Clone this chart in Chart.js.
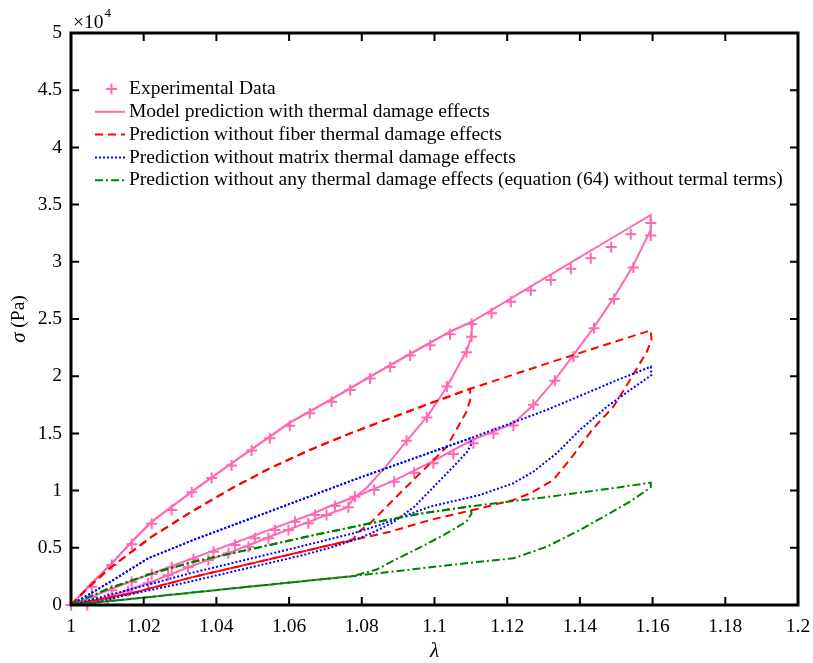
<!DOCTYPE html>
<html>
<head>
<meta charset="utf-8">
<script src="https://cdn.jsdelivr.net/npm/chart.js@4"></script>
<style>
  html, body { margin: 0; padding: 0; background: #fff; }
  canvas { display: block; }
</style>
</head>
<body>
<canvas id="stressChart" width="813" height="663"></canvas>
<script>
// axis ticks
const xTickValues = [1, 1.02, 1.04, 1.06, 1.08, 1.1, 1.12, 1.14, 1.16, 1.18, 1.2];
const yTickValues = [0, 0.5, 1, 1.5, 2, 2.5, 3, 3.5, 4, 4.5, 5]; // x10^4 Pa

const seriesLabels = [
    'Experimental Data',
    'Model prediction with thermal damage effects',
    'Prediction without fiber thermal damage effects',
    'Prediction without matrix thermal damage effects',
    'Prediction without any thermal damage effects (equation (64) without termal terms)'
];

// experimental points (lambda, sigma in 1e4 Pa)
const expLambda = [
    1, 1.0057, 1.0112, 1.0167, 1.0222, 1.0277, 1.0332, 1.0387, 1.0442, 1.0497, 1.0547, 1.0602, 1.0657, 1.0717, 1.0768,
    1.0823, 1.0878, 1.0933, 1.0988, 1.1043, 1.1102, 1.1157, 1.121, 1.1265, 1.132, 1.1375, 1.143, 1.1486, 1.154, 1.1595,
    1.1102, 1.1088, 1.1034, 1.0979, 1.0923,
    1.0763, 1.0703, 1.0653, 1.0598, 1.0543, 1.0488, 1.0433, 1.0378, 1.0322, 1.0267, 1.0212, 1.0157, 1.0102, 1.0045,
    1.1595, 1.1547, 1.1494, 1.1439, 1.1382, 1.1331, 1.1272, 1.1217, 1.1162, 1.1107, 1.1052, 1.0997, 1.0944, 1.0889, 1.0834, 1.0781,
    1.0726, 1.0671, 1.0616, 1.0561, 1.0506, 1.0451, 1.0392, 1.0337, 1.0277, 1.0222, 1.0167, 1.0112, 1.0057
];
const expSigma = [
    0, 0.16, 0.35, 0.53, 0.71, 0.83, 0.985, 1.11, 1.22, 1.35, 1.457, 1.567, 1.676, 1.777, 1.879,
    1.98, 2.08, 2.18, 2.27, 2.366, 2.456, 2.55, 2.65, 2.75, 2.84, 2.94, 3.03, 3.13, 3.24, 3.34,
    2.345, 2.21, 1.91, 1.64, 1.435,
    0.854, 0.787, 0.714, 0.656, 0.583, 0.51, 0.452, 0.393, 0.33, 0.26, 0.19, 0.12, 0.06, 0,
    3.23, 2.95, 2.675, 2.42, 2.17, 1.96, 1.75, 1.57, 1.5, 1.413, 1.32, 1.24, 1.157, 1.078, 1.005, 0.947,
    0.865, 0.787, 0.728, 0.656, 0.583, 0.524, 0.466, 0.4, 0.33, 0.27, 0.2, 0.13, 0.07
];

// model with thermal damage: loading to 1.16, first cycle stops at point nA
const modelLoadL = [1, 1.0057, 1.0112, 1.0167, 1.0222, 1.0332, 1.0442, 1.0602, 1.0717, 1.0823, 1.0933, 1.1043, 1.1105, 1.12, 1.13, 1.14, 1.15, 1.1595];
const modelLoadS = [0, 0.19, 0.364, 0.553, 0.728, 0.99, 1.239, 1.594, 1.8, 1.997, 2.195, 2.39, 2.48, 2.66, 2.85, 3.04, 3.23, 3.41];
const modelNA = 13;
const modelUnloadAL = [1.11, 1.1088, 1.1034, 1.0981, 1.0923, 1.0866, 1.0815, 1.0779, 1.0758, 1.0713, 1.0653, 1.0557, 1.0447, 1.0327, 1.0228, 1.013, 1.0045];
const modelUnloadAS = [2.33, 2.22, 1.908, 1.65, 1.432, 1.209, 1.03, 0.935, 0.85, 0.8, 0.725, 0.61, 0.47, 0.335, 0.21, 0.1, 0];
const modelUnloadBL = [1.1595, 1.1547, 1.1492, 1.1437, 1.1382, 1.1331, 1.1272, 1.1217, 1.1102, 1.0997, 1.0887, 1.0777, 1.0713, 1.0667, 1.0557, 1.0447, 1.0336, 1.0226, 1.0107, 1];
const modelUnloadBS = [3.28, 2.97, 2.68, 2.42, 2.185, 1.967, 1.748, 1.588, 1.44, 1.26, 1.085, 0.94, 0.865, 0.8, 0.67, 0.54, 0.41, 0.28, 0.135, 0];

// without fiber thermal damage
const fiberLoadL = [1, 1.005, 1.011, 1.0222, 1.0332, 1.0442, 1.0547, 1.0657, 1.0768, 1.0878, 1.0988, 1.1098, 1.1354, 1.1584, 1.1595];
const fiberLoadS = [0, 0.16, 0.33, 0.597, 0.816, 1.02, 1.195, 1.355, 1.5, 1.632, 1.763, 1.89, 2.157, 2.39, 2.4];
const fiberNA = 12;
const fiberUnloadAL = [1.1098, 1.1088, 1.1034, 1.0979, 1.0923, 1.0868, 1.0823, 1.0786, 1.0777, 1.0713, 1.0557, 1.0336, 1.0175, 1];
const fiberUnloadAS = [1.79, 1.69, 1.384, 1.209, 1.034, 0.859, 0.714, 0.627, 0.575, 0.524, 0.408, 0.245, 0.11, 0];
const fiberUnloadBL = [1.1597, 1.1584, 1.1538, 1.1492, 1.1437, 1.1382, 1.1327, 1.1263, 1.1217, 1.1125, 1.0988, 1.0878, 1.0777, 1.0713, 1.0557, 1.0336, 1.0175, 1];
const fiberUnloadBS = [2.316, 2.214, 1.967, 1.733, 1.545, 1.311, 1.093, 0.976, 0.918, 0.845, 0.743, 0.641, 0.568, 0.524, 0.408, 0.245, 0.11, 0];

// without matrix thermal damage
const matrixLoadL = [1, 1.0107, 1.0212, 1.0336, 1.0557, 1.0777, 1.1098, 1.1309, 1.1492, 1.1595];
const matrixLoadS = [0, 0.2, 0.408, 0.568, 0.83, 1.093, 1.457, 1.705, 1.952, 2.083];
const matrixNA = 7;
const matrixUnloadAL = [1.1102, 1.109, 1.1055, 1.1, 1.0945, 1.0885, 1.0825, 1.0785, 1.0713, 1.063, 1.0327, 1.015, 1.004];
const matrixUnloadAS = [1.41, 1.34, 1.22, 1.04, 0.86, 0.72, 0.625, 0.575, 0.5, 0.43, 0.204, 0.085, 0];
const matrixUnloadBL = [1.1597, 1.1538, 1.1474, 1.14, 1.1336, 1.1272, 1.1217, 1.1125, 1.0988, 1.085, 1.0777, 1.063, 1.0327, 1.015, 1];
const matrixUnloadBS = [2.01, 1.879, 1.733, 1.53, 1.326, 1.165, 1.064, 0.962, 0.86, 0.7, 0.627, 0.51, 0.277, 0.125, 0];

// without any thermal damage
const plainLoadL = [1, 1.01, 1.0217, 1.0327, 1.0447, 1.0667, 1.0823, 1.0963, 1.1098, 1.13, 1.15, 1.1595];
const plainLoadS = [0, 0.14, 0.27, 0.37, 0.455, 0.61, 0.714, 0.8, 0.862, 0.94, 1.025, 1.069];
const plainNA = 9;
const plainUnloadAL = [1.1102, 1.1088, 1.1025, 1.0955, 1.089, 1.0841, 1.0786, 1.0768, 1.0447, 1.0217, 1];
const plainUnloadAS = [0.8, 0.73, 0.61, 0.495, 0.393, 0.31, 0.262, 0.25, 0.146, 0.07, 0];
const plainUnloadBL = [1.1595, 1.1538, 1.1474, 1.14, 1.1309, 1.1217, 1.1125, 1.0768, 1.0447, 1.0217, 1];
const plainUnloadBS = [1.029, 0.903, 0.787, 0.656, 0.51, 0.408, 0.379, 0.25, 0.146, 0.07, 0];


const pink = 'rgb(255, 105, 180)';
const FONT = '"Liberation Serif", "Times New Roman", serif';

// legend entries: colour, dash (null = marker only)
const legendStyles = [
    { color: pink, dash: null },
    { color: pink, dash: [] },
    { color: 'rgb(255, 0, 0)', dash: [8, 5] },
    { color: 'rgb(0, 0, 255)', dash: [2, 2] },
    { color: 'rgb(0, 128, 0)', dash: [8, 3, 2, 3] }
];

function toPoints(xs, ys) {
    return xs.map((x, i) => ({ x: x, y: ys[i] }));
}

// each cycle is its own dataset so both passes over the loading path share the dash phase
function cycleSets(idx, loadL, loadS, nA, unAL, unAS, unBL, unBS) {
    const st = legendStyles[idx];
    const cycleA = [...toPoints(loadL.slice(0, nA), loadS.slice(0, nA)), ...toPoints(unAL, unAS)];
    const cycleB = [...toPoints(loadL, loadS), ...toPoints(unBL, unBS)];
    return [cycleA, cycleB].map(data => ({
        label: seriesLabels[idx],
        data: data,
        showLine: true,
        borderColor: st.color,
        backgroundColor: st.color,
        borderWidth: 2,
        borderDash: st.dash,
        pointRadius: 0,
        tension: 0,
        order: 5 - idx
    }));
}


const frameAndLabels = {
    id: 'frameAndLabels',
    afterDraw(chart) {
        const { ctx, chartArea: a, scales: { x, y } } = chart;
        ctx.save();

        // inward ticks on all sides
        ctx.strokeStyle = '#000';
        ctx.lineWidth = 2;
        ctx.beginPath();
        xTickValues.forEach(v => {
            const px = x.getPixelForValue(v);
            ctx.moveTo(px, a.bottom); ctx.lineTo(px, a.bottom - 8);
            ctx.moveTo(px, a.top); ctx.lineTo(px, a.top + 8);
        });
        yTickValues.forEach(v => {
            const py = y.getPixelForValue(v);
            ctx.moveTo(a.left, py); ctx.lineTo(a.left + 8, py);
            ctx.moveTo(a.right, py); ctx.lineTo(a.right - 8, py);
        });
        ctx.stroke();

        ctx.lineWidth = 3;
        ctx.strokeRect(a.left, a.top, a.right - a.left, a.bottom - a.top);

        // legend
        ctx.font = '19.5px ' + FONT;
        ctx.textBaseline = 'middle';
        ctx.textAlign = 'left';
        legendStyles.forEach((st, i) => {
            const cy = 89 + i * 22.8;
            ctx.strokeStyle = st.color;
            if (st.dash) {
                ctx.lineWidth = 2;
                ctx.setLineDash(st.dash);
                ctx.beginPath();
                ctx.moveTo(95, cy);
                ctx.lineTo(125, cy);
                ctx.stroke();
                ctx.setLineDash([]);
            } else {
                ctx.lineWidth = 2;
                ctx.beginPath();
                ctx.moveTo(106, cy); ctx.lineTo(117, cy);
                ctx.moveTo(111.5, cy - 5.5); ctx.lineTo(111.5, cy + 5.5);
                ctx.stroke();
            }
            ctx.fillStyle = '#000';
            ctx.fillText(seriesLabels[i], 129, cy);
        });

        // axis titles
        ctx.fillStyle = '#000';
        ctx.font = 'italic 21px ' + FONT;
        ctx.textAlign = 'center';
        ctx.fillText('λ', (a.left + a.right) / 2, 651);

        ctx.save();
        ctx.translate(19, (a.top + a.bottom) / 2);
        ctx.rotate(-Math.PI / 2);
        ctx.font = 'italic 21px ' + FONT;
        const wSig = ctx.measureText('σ').width;
        ctx.font = '19.5px ' + FONT;
        const wPa = ctx.measureText(' (Pa)').width;
        const x0 = -(wSig + wPa) / 2;
        ctx.textAlign = 'left';
        ctx.font = 'italic 21px ' + FONT;
        ctx.fillText('σ', x0, 0);
        ctx.font = '19.5px ' + FONT;
        ctx.fillText(' (Pa)', x0 + wSig, 0);
        ctx.restore();

        // exponent
        ctx.textAlign = 'left';
        ctx.font = '19.5px ' + FONT;
        ctx.fillText('×10', 73, 23);
        const wExp = ctx.measureText('×10').width;
        ctx.font = '13px ' + FONT;
        ctx.fillText('4', 73 + wExp + 1, 14);

        ctx.restore();
    }
};


function createStressChart() {
    const ctx = document.getElementById('stressChart').getContext('2d');
    Chart.defaults.font.family = FONT;
    Chart.defaults.font.size = 19.5;
    Chart.defaults.color = '#000';

    new Chart(ctx, {
        type: 'scatter',
        data: {
            datasets: [
                {
                    label: seriesLabels[0],
                    data: toPoints(expLambda, expSigma),
                    showLine: false,
                    pointStyle: 'cross',
                    pointRadius: 5.5,
                    borderWidth: 2,
                    borderColor: pink,
                    backgroundColor: pink,
                    clip: false,
                    order: 5
                },
                ...cycleSets(1, modelLoadL, modelLoadS, modelNA, modelUnloadAL, modelUnloadAS, modelUnloadBL, modelUnloadBS),
                ...cycleSets(2, fiberLoadL, fiberLoadS, fiberNA, fiberUnloadAL, fiberUnloadAS, fiberUnloadBL, fiberUnloadBS),
                ...cycleSets(3, matrixLoadL, matrixLoadS, matrixNA, matrixUnloadAL, matrixUnloadAS, matrixUnloadBL, matrixUnloadBS),
                ...cycleSets(4, plainLoadL, plainLoadS, plainNA, plainUnloadAL, plainUnloadAS, plainUnloadBL, plainUnloadBS)
            ]
        },
        options: {
            responsive: false,
            animation: false,
            layout: {
                padding: { left: 0, right: 15, top: 33, bottom: 0 }
            },
            plugins: {
                legend: { display: false },
                tooltip: { enabled: false }
            },
            scales: {
                x: {
                    type: 'linear',
                    min: 1,
                    max: 1.2,
                    afterBuildTicks: s => { s.ticks = xTickValues.map(v => ({ value: v })); },
                    afterFit: s => { s.height = 58; s.paddingLeft = 0; s.paddingRight = 0; },
                    grid: { display: false, drawTicks: false },
                    border: { display: false },
                    ticks: {
                        autoSkip: false,
                        maxRotation: 0,
                        padding: 10,
                        callback: v => String(+v.toFixed(2))
                    }
                },
                y: {
                    type: 'linear',
                    min: 0,
                    max: 5,
                    afterBuildTicks: s => { s.ticks = yTickValues.map(v => ({ value: v })); },
                    afterFit: s => { s.width = 71; s.paddingTop = 0; s.paddingBottom = 0; },
                    grid: { display: false, drawTicks: false },
                    border: { display: false },
                    ticks: {
                        autoSkip: false,
                        padding: 9,
                        callback: v => String(+v.toFixed(1))
                    }
                }
            }
        },
        plugins: [frameAndLabels]
    });
}

createStressChart();
</script>
</body>
</html>
